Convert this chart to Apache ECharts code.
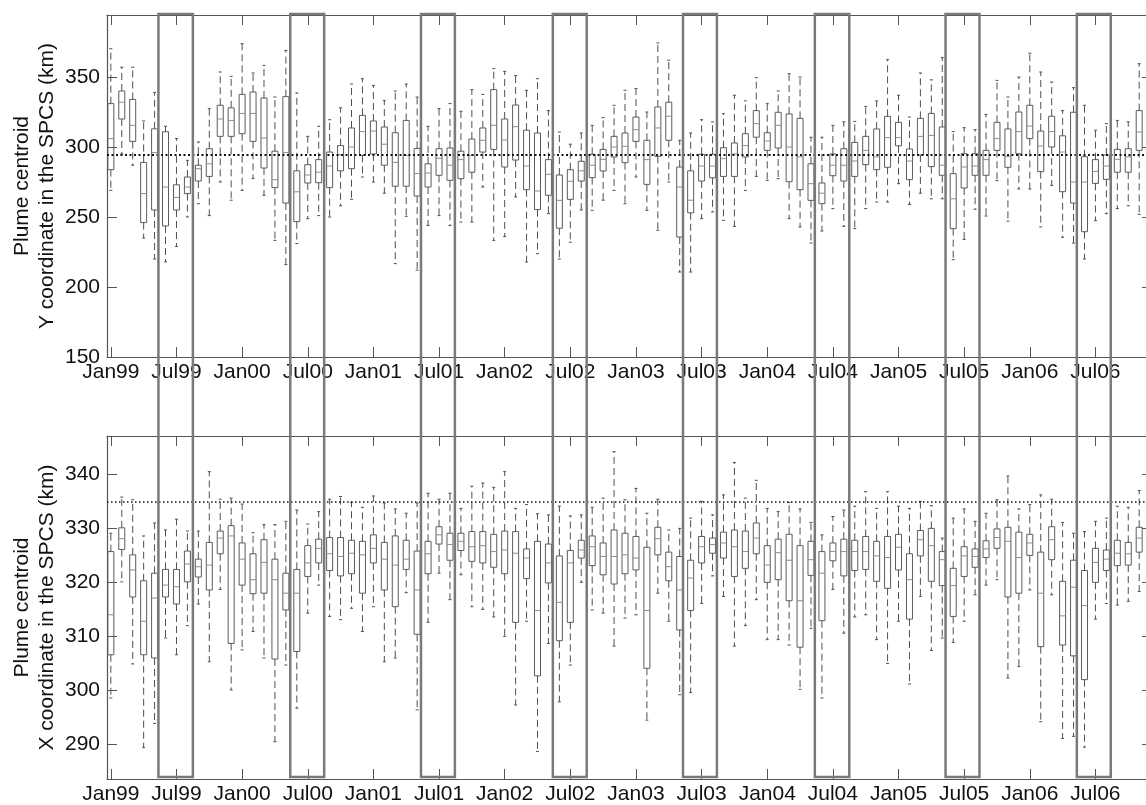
<!DOCTYPE html>
<html>
<head>
<meta charset="utf-8">
<title>Plume centroid boxplots</title>
<script src="https://cdn.jsdelivr.net/npm/echarts@6/dist/echarts.min.js"></script>
<style>
  html, body { margin: 0; padding: 0; background: #fff; }
  #main { width: 1146px; height: 805px; }
</style>
</head>
<body>
<div id="main"></div>
<script>
// tick positions are month offsets from Jan 1999
const tickMonths = [0, 6, 12, 18, 24, 30, 36, 42, 48, 54, 60, 66, 72, 78, 84, 90];
const tickLabels = ['Jan99', 'Jul99', 'Jan00', 'Jul00', 'Jan01', 'Jul01', 'Jan02', 'Jul02',
  'Jan03', 'Jul03', 'Jan04', 'Jul04', 'Jan05', 'Jul05', 'Jan06', 'Jul06'];

// summer windows drawn as grey frames over both panels (months)
const summerStart = [4.35, 16.4, 28.35, 40.4, 52.3, 64.35, 76.3, 88.3];
const summerEnd = [7.5, 19.5, 31.45, 43.5, 55.4, 67.5, 79.4, 91.4];

// top panel: Y coordinate (km), one box per month
const yLow = [269, 295, 287, 235, 220, 218, 229, 250, 259.5, 251, 275, 262,
  269, 277.4, 265.5, 233.3, 216, 231, 248.8, 251, 250, 258, 262.6, 278.6,
  275, 267, 216.7, 250.5, 212, 244, 251, 244, 246.4, 246.4, 271.4, 233.3,
  236, 264.3, 217.9, 223.8, 252.4, 220, 232, 255, 254.8, 262, 269, 259.5,
  278.6, 254.8, 240.5, 275, 210.7, 210.7, 248.8, 253.6, 247.6, 243.3, 269, 279,
  276.2, 277.4, 248.8, 242.9, 231.4, 240, 256, 243.3, 241.7, 256, 260.7, 260.7,
  273.8, 259, 267, 263, 263, 219.5, 234, 255.5, 250.7, 276, 247, 270,
  270, 242.9, 272.6, 235.5, 231.4, 220, 247.4, 252.4, 256, 258, 251.9, 262];
const yQ1 = [283.8, 320, 304, 246, 255, 243.6, 255, 266.7, 275.7, 279, 307.6, 307.6,
  309.5, 304, 285, 271, 260, 246.7, 274.3, 274.5, 271, 283, 284.5, 294,
  295, 287, 272, 272, 265, 271.4, 279.8, 276.2, 277.4, 282, 296.4, 298.3,
  285.7, 290.7, 269.5, 255.3, 265.5, 242, 262.6, 275.7, 278.1, 282.9, 292.9, 288.8,
  304, 273.3, 293.3, 304.8, 235.7, 253, 275.7, 278, 279, 279, 292.9, 307,
  297.6, 299.3, 275.2, 269.5, 261.9, 259.5, 279.5, 275.7, 279, 287.4, 283.8, 285.5,
  300.9, 276.7, 294.3, 286, 279.8, 241.7, 270.7, 279.8, 279.8, 297.6, 285.5, 295.2,
  306, 282.4, 300, 268.1, 260, 239.5, 274, 276.9, 282, 282, 297.6, 300];
const yMed = [306, 332, 315.5, 266.7, 296, 271.4, 264, 271.4, 284.5, 288, 320, 319,
  324, 324, 306.4, 276.6, 296, 268, 280, 282, 286.4, 294.5, 300, 311,
  311.4, 302, 289, 294, 281, 281.4, 292, 287, 291, 294, 304.8, 315.5,
  305, 314.5, 286.4, 268.6, 280.5, 261.9, 275.5, 283, 287, 291.2, 300, 300.5,
  312.4, 291, 313.6, 322, 271.4, 262, 286.4, 286.4, 291.7, 295, 301, 316.7,
  304.3, 315.5, 300, 293, 273.8, 267, 287, 287, 290, 297.6, 293, 306.7,
  306.7, 290, 307.6, 308.3, 287, 263, 285.7, 286.4, 291, 306, 293.3, 311,
  315, 300.7, 311, 296.4, 275, 275, 282.6, 286.4, 291.2, 293, 310.7, 313.8];
const yQ3 = [331, 340, 334, 289, 313, 310.9, 273, 278.6, 287, 298.8, 329.8, 328,
  337.6, 339.3, 335, 297, 336, 283, 287.4, 291, 296.4, 301, 313.6, 322.6,
  318.6, 314.3, 310.2, 319, 299, 288, 298.8, 299.3, 297, 305.7, 313.6, 341,
  320, 330, 312, 310, 291, 280, 283.8, 289.8, 294.8, 298.3, 307.6, 310,
  321.4, 304.8, 328.6, 332, 285.7, 283, 294.8, 294.8, 299.5, 302.9, 309.5, 326,
  310.2, 324.8, 323.6, 320.5, 288, 274.3, 295, 298.8, 303.3, 307.6, 312.9, 321.9,
  317.6, 298.6, 320.5, 324, 314.3, 281, 295.2, 295.2, 297.6, 317.6, 312.9, 325,
  329.8, 311.4, 322, 308, 324.8, 293.1, 291, 294.3, 298.3, 298.8, 326, 329];
const yHigh = [370.2, 357, 357, 318.6, 339, 314.8, 306, 290.5, 303.6, 327.4, 353.6, 350.5,
  373.8, 352.9, 358.3, 335.7, 369, 338.6, 307.6, 314.8, 319.5, 328, 345, 348.8,
  344, 333.3, 340, 345, 335.7, 314.8, 327.4, 331, 325.5, 341, 337.6, 356,
  354, 351, 340.5, 348.8, 326, 310.7, 302, 310, 315.5, 321, 329.8, 340.5,
  341.7, 325, 374.3, 362, 304.8, 310, 319.5, 317.9, 323.8, 337, 333, 349.5,
  331, 340, 352.4, 350, 307, 307, 315.5, 318, 318.3, 329, 332.9, 362.4,
  337, 321.4, 352.9, 348, 364, 311, 313.8, 312.4, 323.3, 347.6, 335.7, 350,
  367, 353.6, 346.4, 326, 342.4, 329.8, 312, 316.7, 319, 318, 359.5, 355];
const yRef = 294.6;

// bottom panel: X coordinate (km)
const xLow = [298.5, 320, 304.8, 289.3, 293.8, 309.6, 306.5, 311.9, 315.9, 305.2, 318.6, 300,
  307.4, 310.8, 305.9, 290.4, 304.6, 296.6, 314.2, 319.4, 313.6, 313, 315.1, 310.8,
  315.4, 305.2, 305.9, 318, 296.3, 312.5, 321.6, 316.7, 321.3, 315.4, 314.9, 313.5,
  309.9, 297.2, 312.7, 288.6, 308.6, 297.8, 304.6, 319.9, 314.8, 314.2, 308.1, 313.3,
  313.9, 294.4, 317.9, 312.7, 299.1, 299.5, 316, 321.1, 317.3, 308.1, 311.9, 316.7,
  309.3, 309.3, 308.3, 300.1, 311.4, 298.5, 318.6, 310.5, 313.5, 313.9, 309.3, 304.9,
  312.7, 301.1, 317.3, 307.3, 309.6, 308.8, 312.7, 317.6, 319.4, 320.4, 302.2, 304.3,
  318.5, 294.1, 317.6, 291, 291.4, 289.4, 313.1, 316, 315.7, 316.4, 318.2, 317];
const xQ1 = [306.5, 326, 317.2, 306.5, 305.9, 317.2, 315.9, 320, 320.9, 318.5, 325.2, 308.6,
  319.4, 317.8, 317.9, 305.7, 314.8, 307.1, 321, 323.5, 322.1, 321.1, 321.5, 317.9,
  323.5, 318.5, 315.4, 322.3, 310.3, 321.5, 327, 324, 325.8, 323.8, 323.5, 322.7,
  321.5, 312.5, 320.6, 302.6, 319.8, 309.1, 312.5, 324.4, 323, 321.3, 319.6, 321.5,
  322.2, 304, 325, 320.2, 311.1, 314.7, 323.5, 325.3, 324.4, 321, 322.5, 325.2,
  319.9, 320.4, 316.5, 307.9, 321.2, 312.8, 323.9, 321.1, 322.1, 322.3, 320.1, 318.8,
  322.2, 313.1, 324.8, 320.1, 319.3, 313.6, 321, 322.7, 324.5, 326.2, 317.2, 317.9,
  324.9, 308, 324.1, 308.3, 306.3, 301.9, 319.9, 322.1, 323, 323.1, 325.5, 324.5];
const xMed = [313.9, 328, 322.2, 312.7, 317, 319.4, 319.1, 323.3, 322.8, 323.1, 328.1, 328.5,
  324.2, 320.4, 323.6, 320.4, 317.9, 317.9, 323.5, 326.2, 325.2, 324.7, 325.3, 325,
  326.2, 324.2, 323.1, 324.2, 318.5, 325.2, 328.7, 326.9, 327.5, 326.5, 326.7, 325.6,
  325.9, 325.3, 324.4, 314.7, 323.5, 316.2, 323.5, 325.9, 326.5, 324.7, 324.7, 325,
  324.4, 314.7, 328, 322.8, 318.5, 320.7, 326.5, 326.9, 327.2, 326.5, 325.6, 328.1,
  323.1, 325.4, 324, 316.5, 324.1, 321.6, 325.6, 325.6, 325.6, 325.6, 324.8, 324.5,
  326.4, 320.4, 327.8, 326.7, 324.1, 319.3, 324.8, 324.7, 326.1, 328.2, 327.5, 324.5,
  327.2, 317.9, 327.8, 313.7, 319, 315.6, 323.6, 324.2, 325.3, 325.2, 328.1, 327.5];
const xQ3 = [325.6, 330, 325, 320.2, 321.6, 322.3, 322.3, 325.7, 324.2, 327.3, 329.4, 330.4,
  327.2, 325.2, 327.8, 324.2, 321.6, 322.3, 326.7, 327.9, 328.2, 328.2, 327.7, 327.5,
  328.7, 327.3, 328.5, 327.7, 325.7, 327.5, 330.2, 329, 329, 329.3, 329.3, 328.8,
  329.4, 329.3, 326.1, 327.5, 327, 324.8, 325.8, 327.7, 328.5, 327.2, 329.6, 329,
  328.4, 326.4, 330.1, 325.5, 324.7, 324, 328.4, 328.1, 329.2, 329.6, 329.4, 330.9,
  326.7, 327.9, 328.8, 326.7, 327.5, 325.6, 327.2, 327.9, 327.7, 328.4, 327.5, 328.4,
  328.8, 325.2, 329.5, 329.9, 325.6, 322.5, 326.5, 326.1, 327.6, 329.8, 330.1, 329.2,
  328.8, 325.5, 330.2, 320.1, 324, 322.1, 326.2, 325.9, 327.7, 327.3, 330.1, 329.5];
const xHigh = [329, 335.7, 335.2, 328.5, 330.9, 329.6, 331.6, 329.4, 329.4, 340.4, 335.3, 335.5,
  334.4, 329.1, 330.6, 330.6, 331.2, 333.3, 330.7, 333, 335.3, 335.8, 334.7, 333.8,
  335.9, 334.6, 333.5, 332.7, 334.6, 336.4, 335.3, 336.4, 333.6, 337.7, 338.3, 337.5,
  340.4, 333.6, 334.3, 332.6, 332.4, 334, 332.2, 332.4, 333.8, 335.5, 344.1, 335.2,
  337.3, 332.7, 335.3, 329.6, 329.9, 331.8, 334.9, 332.4, 336.1, 342.1, 335.5, 338.8,
  333.6, 333, 334.7, 333.5, 331, 328.7, 332.1, 333.3, 334, 336.7, 333.6, 336.7,
  334, 333.6, 334.9, 334.1, 328.1, 331.8, 333.5, 331.2, 332.7, 335.2, 339.6, 333.5,
  334.3, 336.1, 335.3, 331, 329, 329.3, 331.2, 331.8, 334, 333.8, 336.9, 333];
const xRef = 334.8;

const FONT = 'Liberation Sans, Arial, Helvetica, sans-serif';
const AXIS_COLOR = '#555';
const xMin = -0.35;
const xMax = 95.17;

const chart = echarts.init(document.getElementById('main'));

function boxData(lo, q1, md, q3, hi) {
  return lo.map((v, i) => [i, v, q1[i], md[i], q3[i], hi[i]]);
}

function renderBox(params, api) {
  const m = api.value(0);
  const pLo = api.coord([m, api.value(1)]);
  const pQ1 = api.coord([m, api.value(2)]);
  const pMd = api.coord([m, api.value(3)]);
  const pQ3 = api.coord([m, api.value(4)]);
  const pHi = api.coord([m, api.value(5)]);
  const cx = pMd[0];
  const hw = 3;
  const whisker = { stroke: '#505050', lineWidth: 1, lineDash: [7, 4] };
  const cap = { stroke: '#505050', lineWidth: 1 };
  return {
    type: 'group',
    children: [
      { type: 'line', shape: { x1: cx, y1: pQ3[1], x2: cx, y2: pHi[1] }, style: whisker },
      { type: 'line', shape: { x1: cx, y1: pQ1[1], x2: cx, y2: pLo[1] }, style: whisker },
      { type: 'line', shape: { x1: cx - 1.5, y1: pHi[1], x2: cx + 1.5, y2: pHi[1] }, style: cap },
      { type: 'line', shape: { x1: cx - 1.5, y1: pLo[1], x2: cx + 1.5, y2: pLo[1] }, style: cap },
      {
        type: 'rect',
        shape: { x: cx - hw, y: pQ3[1], width: hw * 2, height: pQ1[1] - pQ3[1] },
        style: { fill: 'none', stroke: '#5c5c5c', lineWidth: 1 }
      },
      { type: 'line', shape: { x1: cx - hw, y1: pMd[1], x2: cx + hw, y2: pMd[1] }, style: { stroke: '#8c8c8c', lineWidth: 1 } }
    ]
  };
}

function renderFrame(params, api) {
  const p0 = api.coord([api.value(0), 1]);
  const p1 = api.coord([api.value(1), 0]);
  return {
    type: 'rect',
    shape: { x: p0[0], y: p0[1], width: p1[0] - p0[0], height: p1[1] - p0[1] },
    style: { fill: 'none', stroke: '#7a7a7a', lineWidth: 2.5 }
  };
}

function xAxes(grid, showLabels) {
  const common = {
    type: 'value', gridIndex: grid, min: xMin, max: xMax,
    splitLine: { show: false },
    axisLine: { show: true, onZero: false, lineStyle: { color: AXIS_COLOR, width: 1.2 } },
    axisTick: { show: true, inside: true, length: 10, customValues: tickMonths, lineStyle: { color: AXIS_COLOR, width: 1 } }
  };
  return [
    Object.assign({}, common, {
      position: 'bottom',
      axisLabel: {
        show: showLabels, customValues: tickMonths, margin: 5,
        fontSize: 21, fontFamily: FONT, color: '#111',
        formatter: v => tickLabels[tickMonths.indexOf(v)]
      }
    }),
    Object.assign({}, common, { position: 'top', axisLabel: { show: false } })
  ];
}

function yAxes(grid, min, max, ticks, name) {
  const common = {
    type: 'value', gridIndex: grid, min: min, max: max,
    splitLine: { show: false },
    axisLine: { show: true, onZero: false, lineStyle: { color: AXIS_COLOR, width: 1.2 } },
    axisTick: { show: true, inside: true, length: 10, customValues: ticks, lineStyle: { color: AXIS_COLOR, width: 1 } }
  };
  return [
    Object.assign({}, common, {
      position: 'left',
      name: name, nameLocation: 'middle', nameRotate: 90, nameGap: 47,
      nameMoveOverlap: false,
      nameTextStyle: { fontSize: 21, lineHeight: 25, fontFamily: FONT, color: '#111', align: 'center' },
      axisLabel: { customValues: ticks, margin: 7, fontSize: 21, fontFamily: FONT, color: '#111' }
    }),
    Object.assign({}, common, { position: 'right', axisLabel: { show: false } })
  ];
}

const topX = xAxes(0, true);
const botX = xAxes(1, true);
const topY = yAxes(0, 150, 394.3, [150, 200, 250, 300, 350], 'Plume centroid\nY coordinate in the SPCS (km)');
const botY = yAxes(1, 283.5, 347, [290, 300, 310, 320, 330, 340], 'Plume centroid\nX coordinate in the SPCS (km)');

chart.setOption({
  animation: false,
  backgroundColor: '#fff',
  grid: [
    { left: 107, top: 15, width: 1045, height: 342, outerBoundsMode: 'none', containLabel: false },
    { left: 107, top: 436, width: 1045, height: 343, outerBoundsMode: 'none', containLabel: false },
    { left: 107, top: 14, width: 1045, height: 763, outerBoundsMode: 'none', containLabel: false }
  ],
  xAxis: [
    topX[0], topX[1], botX[0], botX[1],
    { type: 'value', gridIndex: 2, min: xMin, max: xMax, show: false }
  ],
  yAxis: [
    topY[0], topY[1], botY[0], botY[1],
    { type: 'value', gridIndex: 2, min: 0, max: 1, show: false }
  ],
  series: [
    {
      name: 'Y coordinate',
      type: 'custom',
      xAxisIndex: 0, yAxisIndex: 0,
      clip: true,
      renderItem: renderBox,
      encode: { x: 0, y: [1, 2, 3, 4, 5] },
      data: boxData(yLow, yQ1, yMed, yQ3, yHigh),
      markLine: {
        silent: true, symbol: 'none', label: { show: false },
        lineStyle: { color: '#111', width: 2, type: [2, 2.5] },
        data: [{ yAxis: yRef }]
      },
      z: 2
    },
    {
      name: 'X coordinate',
      type: 'custom',
      xAxisIndex: 2, yAxisIndex: 2,
      clip: true,
      renderItem: renderBox,
      encode: { x: 0, y: [1, 2, 3, 4, 5] },
      data: boxData(xLow, xQ1, xMed, xQ3, xHigh),
      markLine: {
        silent: true, symbol: 'none', label: { show: false },
        lineStyle: { color: '#111', width: 1.5, type: [1.5, 2.5] },
        data: [{ yAxis: xRef }]
      },
      z: 2
    },
    {
      name: 'summer',
      type: 'custom',
      xAxisIndex: 4, yAxisIndex: 4,
      renderItem: renderFrame,
      encode: { x: [0, 1] },
      data: summerStart.map((s, i) => [s, summerEnd[i]]),
      z: 5
    }
  ]
});
</script>
</body>
</html>
